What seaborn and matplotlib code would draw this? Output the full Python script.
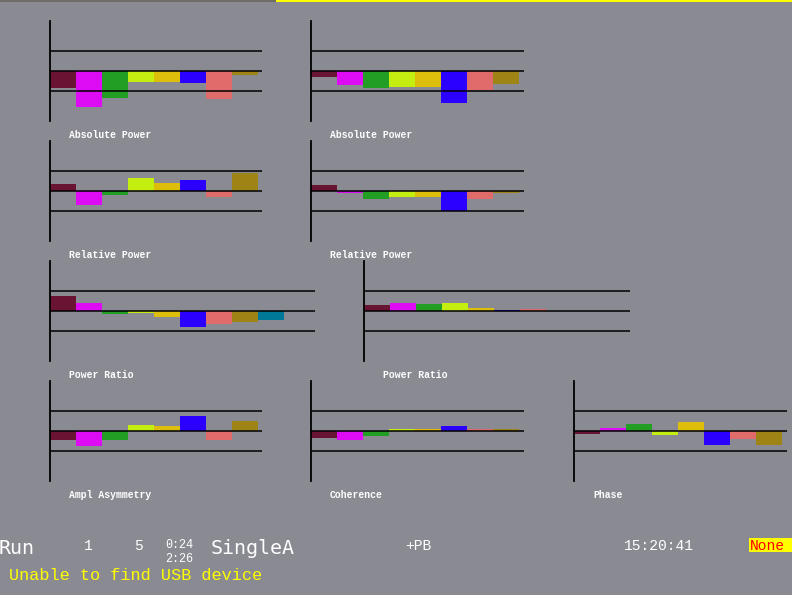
import matplotlib
matplotlib.use("Agg")
import matplotlib.pyplot as plt
import seaborn as sns
import pandas as pd
from matplotlib.patches import Rectangle

# ---------------- data ----------------
band_colors = ["#6A1434", "#DD0CF5", "#229E24", "#C4EE10", "#DDBE0A",
               "#2B00FF", "#E06B6B", "#9D8414", "#007898"]

abs_power_left = [-0.83, -1.78, -1.33, -0.53, -0.53, -0.58, -1.42, -0.18]
abs_power_right = [-0.32, -0.72, -0.87, -0.82, -0.82, -1.62, -0.97, -0.67]
rel_power_left = [0.37, -0.68, -0.22, 0.67, 0.42, 0.57, -0.28, 0.92]
rel_power_right = [0.32, -0.12, -0.38, -0.28, -0.28, -0.98, -0.38, -0.08]
power_ratio_left = [0.77, 0.42, -0.13, -0.08, -0.28, -0.82, -0.67, -0.53, -0.43]
power_ratio_right = [0.32, 0.42, 0.37, 0.42, 0.17, 0.07, 0.12]
ampl_asymmetry = [-0.47, -0.73, -0.43, 0.32, 0.27, 0.77, -0.47, 0.52]
coherence = [-0.37, -0.43, -0.23, 0.12, 0.12, 0.27, 0.12, 0.12]
phase = [-0.13, 0.17, 0.37, -0.18, 0.47, -0.68, -0.38, -0.68]

panel_titles = ["Absolute Power", "Absolute Power", "Relative Power", "Relative Power",
                "Power Ratio", "Power Ratio", "Ampl Asymmetry", "Coherence", "Phase"]
panel_values = [abs_power_left, abs_power_right, rel_power_left, rel_power_right,
                power_ratio_left, power_ratio_right, ampl_asymmetry, coherence, phase]

# ---------------- layout (pixels) ----------------
W, H = 792, 595
BG = "#8A8A92"
# (left x, top y, width) of each panel
panel_boxes = [(50, 21, 212), (311, 21, 213),
               (50, 141, 212), (311, 141, 213),
               (50, 261, 265), (364, 261, 266),
               (50, 381, 212), (311, 381, 213), (574, 381, 213)]
PANEL_H = 100
BAR_PX = 26

sns.set_theme(style="white")
plt.rcParams["font.family"] = ["Liberation Mono", "DejaVu Sans Mono"]

fig = plt.figure(figsize=(W / 100, H / 100), dpi=100, facecolor=BG)


def fx(x):
    return x / W


def fy(y):
    return 1 - y / H


for title, vals, (x0, top, w) in zip(panel_titles, panel_values, panel_boxes):
    ax = fig.add_axes([fx(x0), fy(top + PANEL_H), w / W, PANEL_H / H])
    ax.set_facecolor("none")
    n = len(vals)
    df = pd.DataFrame({"band": [str(i) for i in range(n)], "value": vals})
    sns.barplot(data=df, x="band", y="value", hue="band",
                palette=band_colors[:n], width=1.0, saturation=1,
                legend=False, ax=ax, linewidth=0, edgecolor="none", zorder=2)
    ax.set_xlim(-0.5, -0.5 + w / BAR_PX)
    ax.set_ylim(-2.5, 2.5)
    for yv in (-1, 0, 1):
        ax.axhline(yv, color="black", lw=1.1, zorder=3)
    for s in ("top", "right", "bottom"):
        ax.spines[s].set_visible(False)
    ax.spines["left"].set_color("black")
    ax.spines["left"].set_linewidth(1.3)
    ax.set_xticks([])
    ax.set_yticks([])
    ax.set_xlabel("")
    ax.set_ylabel("")
    fig.text(fx(x0 + 19), fy(top + 113.5), title, color="white",
             fontsize=7, fontweight="bold", ha="left", va="center",
             family=["Liberation Mono", "DejaVu Sans Mono"])

# top status stripes
fig.patches.append(Rectangle((0, fy(1.5)), fx(276), 1.5 / H, transform=fig.transFigure,
                             facecolor="#6E6E66", edgecolor="none"))
fig.patches.append(Rectangle((fx(276), fy(1.5)), 1 - fx(276), 1.5 / H, transform=fig.transFigure,
                             facecolor="#FFFF00", edgecolor="none"))

# bottom status texts
big = dict(color="white", fontsize=14.4, ha="left", va="center",
           family=["DejaVu Sans Mono"])
small = dict(color="white", fontsize=10.5, ha="left", va="center",
             family=["Liberation Mono", "DejaVu Sans Mono"])
tiny = dict(color="white", fontsize=8.5, ha="left", va="center",
            family=["Liberation Mono", "DejaVu Sans Mono"])
fig.text(fx(-1), fy(548), "Run", **big)
fig.text(fx(211), fy(548), "SingleA", **big)
fig.text(fx(84), fy(546.5), "1", **small)
fig.text(fx(134), fy(546.5), "5", **small)
fig.text(fx(165), fy(545.5), "0:24", **tiny)
fig.text(fx(165), fy(559.5), "2:26", **tiny)
fig.text(fx(405), fy(546.5), "+PB", **small)
fig.text(fx(624), fy(546.5), "15:20:41", **small)
fig.patches.append(Rectangle((fx(749), fy(552)), 1 - fx(749), 14 / H, transform=fig.transFigure,
                             facecolor="#FFFF00", edgecolor="none"))
fig.text(fx(750), fy(546), "None", color="#FF0000", fontsize=10.5, ha="left", va="center",
         family=["Liberation Mono", "DejaVu Sans Mono"])
fig.text(fx(9), fy(575.5), "Unable to find USB device", color="#FFFF00", fontsize=12.2,
         ha="left", va="center", family=["Liberation Mono", "DejaVu Sans Mono"])

fig.savefig("out.png", dpi=100, facecolor=BG)
